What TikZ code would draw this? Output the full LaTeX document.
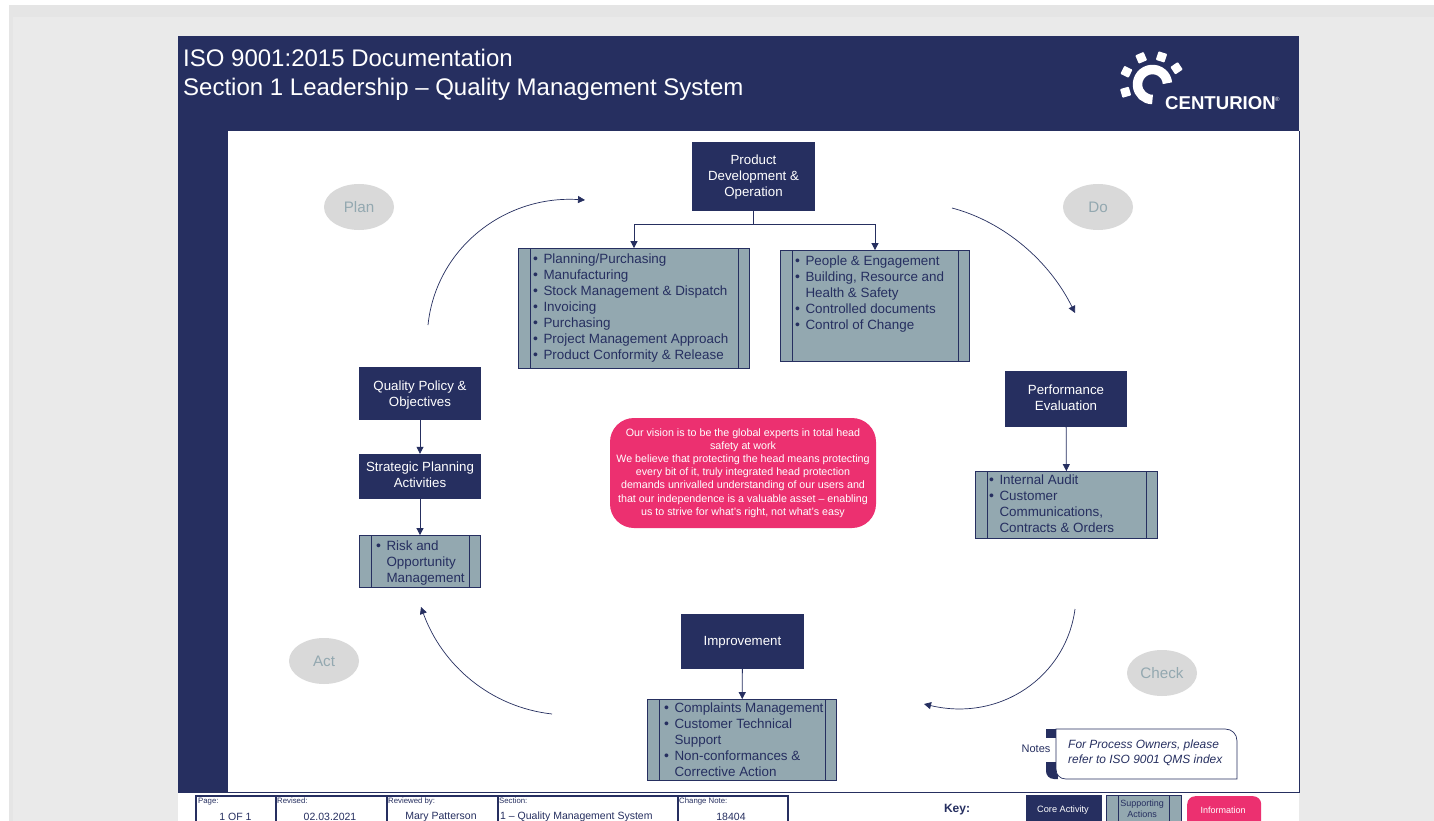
\documentclass[tikz,border=0pt]{standalone}
\usepackage{fontspec}
\setmainfont{Liberation Sans}
\usetikzlibrary{arrows.meta,calc,shapes.geometric}
\definecolor{navy}{HTML}{262F60}
\definecolor{steel}{HTML}{93A8B0}
\definecolor{pinkc}{HTML}{EC3070}
\definecolor{bgc}{HTML}{EAEAEA}
\definecolor{bandc}{HTML}{E5E5E5}
\definecolor{pdpa}{HTML}{D9D9D9}
\definecolor{pdpat}{HTML}{93A8B0}
\newcommand{\fs}[2]{\fontsize{#1pt}{#2pt}\selectfont}
\newcommand{\txtoff}{25}
\newcommand{\lstbody}[4]{\begin{minipage}[c][#2pt][t]{#1pt}\vspace*{#3pt}\fs{13.4}{16.1}\parindent=0pt\color{navy}#4\end{minipage}}
\newcommand{\itm}[1]{\mbox{}\hspace*{\dimexpr\txtoff pt-10.5pt\relax}\makebox[10.5pt][l]{\fs{14}{8}\textbullet}\mbox{#1}\par}
\newcommand{\cnt}[1]{\mbox{}\hspace*{\txtoff pt}\mbox{#1}\par}
\tikzset{
  x=1pt,y=-1pt,
  core/.style={fill=navy,text=white,align=center,inner sep=0pt,font=\fs{13.3}{16}},
  sup/.style={fill=steel,draw=navy,line width=.8pt,inner sep=0pt,
    path picture={
      \draw[navy,line width=.8pt] ($(path picture bounding box.north west)+(#1,0)$) -- ($(path picture bounding box.south west)+(#1,0)$);
      \draw[navy,line width=.8pt] ($(path picture bounding box.north east)+(-#1,0)$) -- ($(path picture bounding box.south east)+(-#1,0)$);}},
  sup/.default=11.5,
  pdca/.style={ellipse,fill=pdpa,text=pdpat,minimum width=70pt,minimum height=46pt,inner sep=0pt,font=\fs{15.2}{18}},
  link/.style={navy,line width=.8pt,-{Triangle[length=7pt,width=7pt]}},
  cycle/.style={navy,line width=.7pt,-{Triangle[length=7pt,width=7pt]}},
  cell/.style={draw=navy,line width=1.6pt,fill=white,anchor=north west,minimum height=40pt,inner sep=0pt},
  cellhead/.style={anchor=north west,inner sep=0pt,text=navy,font=\fs{7.8}{10}},
  cellval/.style={inner sep=0pt,text=navy,font=\fs{10.5}{13}},
}
\begin{document}
\begin{tikzpicture}
\useasboundingbox (0,0) rectangle (1434,821);
\clip (0,0) rectangle (1434,821);
% page background
\fill[white] (0,0) rectangle (1434,821);
\fill[bandc] (9,5) rectangle (1434,821);
\fill[bgc] (13,17) rectangle (1434,821);
\fill[white] (178,36) rectangle (1299,821);
% header and side strip
\fill[navy] (178,36) rectangle (1299,131);
\fill[navy] (178,131) rectangle (228,792);
\draw[navy,line width=.9pt] (178,792) -- (1299,792) -- (1299,131);
\node[anchor=base west,inner sep=0pt,text=white,font=\fs{24}{30}] (t1) at (183,66.5) {ISO 9001:2015 Documentation};
\node[anchor=base west,inner sep=0pt,text=white,font=\fs{24}{30}] (t2) at (183,96) {Section 1 Leadership – Quality Management System};
% logo
\begin{scope}[shift={(1152.5,84.5)},x=1pt,y=1pt]
  \draw[white,line width=9.5pt] (5:15) arc (5:270:15);
  \foreach \a/\r in {154/29,113/29,72/29,34/29,196/28}
    \fill[white,rotate=\a,rounded corners=.8pt] (\r-4.5,-4.5) rectangle (\r+4.5,4.5);
\end{scope}
\node[anchor=base west,inner sep=0pt,text=white,font=\fs{18.6}{20}\bfseries] (logo) at (1165,110) {CENTURION};
\node[anchor=west,inner sep=0pt,text=white,font=\fs{6}{6}] (reg) at (1275,99) {®};
% PDCA
\node[pdca] (plan) at (359,207) {Plan};
\node[pdca] (do) at (1098,207) {Do};
\node[pdca] (act) at (324,661) {Act};
\node[pdca] (check) at (1162,673) {Check};
% Core nodes
\node[core,minimum width=123pt,minimum height=69pt,text depth=1.5pt] (pd) at (753.5,176.5) {Product\\Development \&\\Operation};
\node[core,minimum width=122pt,minimum height=53pt,text depth=0pt] (qp) at (420,393.5) {Quality Policy \&\\Objectives};
\node[core,minimum width=122pt,minimum height=45pt,text depth=3pt] (sp) at (420,476.5) {Strategic Planning\\Activities};
\node[core,minimum width=122pt,minimum height=56pt,text depth=3.5pt] (pe) at (1066,399) {Performance\\Evaluation};
\node[core,minimum width=123pt,minimum height=55pt,text depth=1.5pt] (im) at (742.5,641.5) {Improvement};
% Supporting lists
\node[sup] (l1) at (634,308.5) {\lstbody{231}{120}{5}{\itm{Planning/Purchasing}\itm{Manufacturing}\itm{Stock Management \& Dispatch}\itm{Invoicing}\itm{Purchasing}\itm{Project Management Approach}\itm{Product Conformity \& Release}}};
\node[sup] (l2) at (875,306) {\lstbody{189}{111}{5}{\itm{People \& Engagement}\itm{Building, Resource and}\cnt{Health \& Safety}\itm{Controlled documents}\itm{Control of Change}}};
\node[sup] (l3) at (1066.5,505) {\lstbody{182}{67}{3}{\renewcommand{\txtoff}{24}\itm{Internal Audit}\itm{Customer}\cnt{Communications,}\cnt{Contracts \& Orders}}};
\node[sup] (l4) at (742,740) {\lstbody{189}{81}{3}{\renewcommand{\txtoff}{27}\itm{Complaints Management}\itm{Customer Technical}\cnt{Support}\itm{Non-conformances \&}\cnt{Corrective Action}}};
\node[sup] (l5) at (420,561.5) {\lstbody{121}{52}{5}{\renewcommand{\txtoff}{27}\itm{Risk and}\cnt{Opportunity}\cnt{Management}}};
% Connectors
\draw[link] (pd.south) -- ++(0,13) -| (l1.north);
\draw[link] (pd.south) -- ++(0,13) -| (l2.north);
\draw[link] (qp) -- (sp);
\draw[link] (sp) -- (l5);
\draw[link] (pe) -- (l3);
\draw[link] (im) -- (l4);
% Vision
\node[fill=pinkc,rounded corners=24pt,minimum width=266pt,minimum height=110pt,align=center,text=white,inner sep=0pt,font=\fs{10.7}{13.2}] (vis) at (743,473) {Our vision is to be the global experts in total head\\safety at work\\We believe that protecting the head means protecting\\every bit of it, truly integrated head protection\\demands unrivalled understanding of our users and\\that our independence is a valuable asset – enabling\\us to strive for what’s right, not what’s easy};
% Cycle arrows
\coordinate (c1a) at (428,325); \coordinate (c1b) at (585,200);
\coordinate (c2a) at (952,208); \coordinate (c2b) at (1075,313);
\coordinate (c3a) at (1075,609); \coordinate (c3b) at (924,704);
\coordinate (c4a) at (552,714); \coordinate (c4b) at (421,607);
\draw[cycle] (c1a) .. controls (436,248) and (505,195) .. (c1b);
\draw[cycle] (c2a) .. controls (1005,222) and (1050,262) .. (c2b);
\draw[cycle] (c3a) .. controls (1066,677) and (1000,722) .. (c3b);
\draw[cycle] (c4a) .. controls (490,707) and (442,665) .. (c4b);
% Notes
\fill[navy] (1046,729) rectangle (1057,738);
\fill[navy] (1046,762) -- (1057,762) -- (1058,779) -- (1054,779) .. controls (1049,779) and (1046,775) .. (1046,771) -- cycle;
\draw[navy,line width=.7pt,fill=white] (1056,729) -- (1225,729) .. controls (1232,729) and (1237,734) .. (1237,741) -- (1237,779) -- (1066,779) .. controls (1060,779) and (1056,775) .. (1056,769) -- cycle;
\node[inner sep=0pt,text=navy,font=\fs{11}{13}] (nl) at (1036,749) {Notes};
\node[anchor=west,inner sep=0pt,align=left,text=navy,font=\fs{11.95}{15}\itshape] (nt) at (1068,753) {For Process Owners, please\\refer to ISO 9001 QMS index};
% Footer
\node[cell,minimum width=80pt] (f1) at (195,795) {};
\node[cell,minimum width=111pt] (f2) at (275,795) {};
\node[cell,minimum width=111pt] (f3) at (386,795) {};
\node[cell,minimum width=180pt] (f4) at (497,795) {};
\node[cell,minimum width=110pt] (f5) at (677,795) {};
\node[cellhead] at (198,798) {Page:};
\node[cellhead] at (277,798) {Revised:};
\node[cellhead] at (388,798) {Reviewed by:};
\node[cellhead] at (499,798) {Section:};
\node[cellhead] at (679,798) {Change Note:};
\node[cellval] at (235.5,816.5) {1 OF 1};
\node[cellval] at (330,816.5) {02.03.2021};
\node[cellval] at (441,816.5) {Mary Patterson};
\node[cellval,anchor=west] at (500,816.5) {1 – Quality Management System};
\node[cellval] at (731,816.5) {18404};
% Key
\node[inner sep=0pt,text=navy,font=\fs{12}{14}\bfseries] (key) at (957,810) {Key:};
\node[core,anchor=north west,minimum width=76pt,minimum height=40pt] (k1) at (1026,795) {};
\node[inner sep=0pt,text=white,font=\fs{9.2}{11}] at (1063,810) {Core Activity};
\node[sup=12,anchor=north west,minimum width=75pt,minimum height=40pt] (k2) at (1106,795) {};
\node[inner sep=0pt,text=navy,align=center,font=\fs{9}{11}] at (1142,808.5) {Supporting\\Actions};
\node[fill=pinkc,rounded corners=8pt,anchor=north west,minimum width=74pt,minimum height=40pt,inner sep=0pt] (k3) at (1187,796) {};
\node[inner sep=0pt,text=white,font=\fs{9}{11}] at (1223,810) {Information};
\end{tikzpicture}
\end{document}
